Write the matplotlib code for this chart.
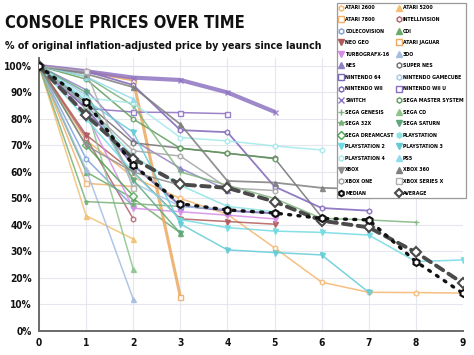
import matplotlib
matplotlib.use('Agg')
import matplotlib.pyplot as plt
from matplotlib import font_manager as fm
from matplotlib.lines import Line2D
from matplotlib.ticker import FuncFormatter
import numpy as np

# ---------------- data ----------------
years = [0, 1, 2, 3, 4, 5, 6, 7, 8, 9]

atari_2600 = [100, 72, 58, 50, 44, 31.4, 18.4, 14.6, 14.5, 14.3]
atari_5200 = [100, 43.5, 34.7]
atari_7800 = [100, 55.7, 54.5]
intellivision = [100, 73, 42.3]
colecovision = [100, 65, 47]
cdi = [100, 60, 50, 37]
neo_geo = [100, 74, 60, 42.3, 41.3, 40.3]
atari_jaguar = [100, 98, 94.7, 13]
turbografx_16 = [100, 82, 46.3, 45, 43.7, 42.3]
three_do = [100, 61, 12]
nes = [100, 91, 72, 61.4, 53.2]
super_nes = [100, 86, 71, 69, 67, 65.2, 43]
nintendo_64 = [100, 84, 62.6, 47.3, 45.4, 44.4]
gamecube = [100, 89, 56, 47, 46]
nintendo_wii = [100, 98, 92.8, 75.8, 75, 54.5, 46.4, 45.4]
nintendo_wii_u = [100, 84, 82.6, 82.4, 82]
switch = [100, 98, 95.6, 94.7, 90, 82.7]
sega_master_system = [100, 95, 80, 68.9, 67.1, 65]
sega_genesis = [100, 96, 85, 60, 55, 50, 42.5, 41.9, 41]
sega_cd = [100, 85, 23.4]
sega_32x = [100, 48.8, 48, 47]
sega_saturn = [100, 90, 57, 36.9]
sega_dreamcast = [100, 70, 51]
playstation = [100, 85, 66, 55, 47, 45]
playstation_2 = [100, 80, 60, 42, 39, 37.7, 37.2, 36.2, 26.2, 26.8]
playstation_3 = [100, 87, 75, 40.4, 30.6, 29.6, 28.7, 14.6]
playstation_4 = [100, 88, 86, 73, 71.7, 69.8, 68.3]
ps5 = [100, 96, 87.5]
xbox = [100, 70, 60, 55]
xbox_360 = [100, 97, 92, 78, 56.6, 56, 54, 53.5, 52.2]
xbox_one = [100, 85, 68, 66, 54, 53]
xbox_series_x = [100, 98, 54]
median = [100, 86.5, 62.6, 48, 45.7, 44.5, 42.5, 41.9, 26.2, 14.2]
average = [100, 81.5, 65, 55.3, 54, 48.8, 41.6, 39.1, 29.7, 18]

labels = ["ATARI 2600", "ATARI 5200", "ATARI 7800", "INTELLIVISION", "COLECOVISION", "CDI",
          "NEO GEO", "ATARI JAGUAR", "TURBOGRAFX-16", "3DO", "NES", "SUPER NES",
          "NINTENDO 64", "NINTENDO GAMECUBE", "NINTENDO WII", "NINTENDO WII U", "SWITCH",
          "SEGA MASTER SYSTEM", "SEGA GENESIS", "SEGA CD", "SEGA 32X", "SEGA SATURN",
          "SEGA DREAMCAST", "PLAYSTATION", "PLAYSTATION 2", "PLAYSTATION 3", "PLAYSTATION 4",
          "PS5", "XBOX", "XBOX 360", "XBOX ONE", "XBOX SERIES X", "MEDIAN", "AVERAGE"]

series = [atari_2600, atari_5200, atari_7800, intellivision, colecovision, cdi,
          neo_geo, atari_jaguar, turbografx_16, three_do, nes, super_nes,
          nintendo_64, gamecube, nintendo_wii, nintendo_wii_u, switch,
          sega_master_system, sega_genesis, sega_cd, sega_32x, sega_saturn,
          sega_dreamcast, playstation, playstation_2, playstation_3, playstation_4,
          ps5, xbox, xbox_360, xbox_one, xbox_series_x, median, average]

# style: color, marker, hollow, linewidth
styles = [
    ('#f4b56c', 'h', True, 1.1), ('#f2c070', '^', False, 1.1), ('#f0b070', 's', True, 1.1),
    ('#b0606e', 'h', True, 1.1), ('#7d9fd6', 'h', True, 1.1), ('#6aaa6a', '^', False, 1.1),
    ('#b05a5a', 'v', False, 1.1), ('#eda860', 's', True, 2.2), ('#d58ce8', 'v', False, 1.1),
    ('#a4bce2', '^', False, 1.1), ('#8f7fc4', '^', False, 1.1), ('#6f6f6f', 'h', True, 1.1),
    ('#7a68b4', 's', True, 1.5), ('#a6c6ea', 'h', True, 1.1), ('#7f64b8', 'h', True, 1.3),
    ('#8a6cc0', 's', True, 1.1), ('#8e74c2', 'x', False, 3.0),
    ('#5e9a5a', 'h', True, 1.1), ('#7db47d', '+', False, 1.1), ('#8cc48c', '^', False, 1.1),
    ('#78b078', '*', False, 1.1), ('#5ea87e', 'v', False, 1.1), ('#4ea04e', 'D', True, 1.1),
    ('#8ae2e2', 'h', False, 1.1), ('#70dae2', 'v', False, 1.1), ('#62ccd6', 'v', False, 1.1),
    ('#a2e8ea', 'h', True, 1.1), ('#90dcef', '^', False, 1.1), ('#8c8c8c', 'v', False, 1.1),
    ('#7f7f7f', '^', False, 1.3), ('#a2a2a2', 'h', True, 1.1), ('#b0b0b0', 's', True, 1.1),
    ('#111111', 'h', True, 2.4), ('#4a4a4a', 'D', True, 2.8),
]

# ---------------- fonts: DejaVu Sans Condensed Bold if present ----------------
def weight_of(f):
    if isinstance(f.weight, int):
        return f.weight
    table = {'black': 900, 'heavy': 900, 'extra bold': 800, 'bold': 700, 'demibold': 600,
             'semibold': 600, 'medium': 500, 'normal': 400, 'regular': 400, 'light': 300}
    return table.get(str(f.weight).lower(), 400)


def pick_font():
    for f in fm.fontManager.ttflist:
        fn = f.fname.lower()
        if f.name == 'DejaVu Sans' and 'condensed' in fn and 'bold' in fn \
                and 'oblique' not in fn and 'italic' not in fn:
            return dict(fname=f.fname)
    best = None
    for f in fm.fontManager.ttflist:
        fn = f.fname.lower()
        nm = f.name.lower()
        if 'mono' in fn or 'mono' in nm or 'italic' in fn or 'oblique' in fn or f.style != 'normal':
            continue
        cond = str(f.stretch) == 'condensed' or 'condensed' in fn or 'narrow' in fn
        if not cond or 'extra' in fn or 'ultra' in fn:
            continue
        score = -abs(weight_of(f) - 700)
        if best is None or score > best[0]:
            best = (score, f.fname)
    if best is not None:
        return dict(fname=best[1])
    return dict(family='DejaVu Sans', weight='bold')


FONTSPEC = pick_font()


def fp(size):
    return fm.FontProperties(size=size, **FONTSPEC)


# ---------------- figure ----------------
fig = plt.figure(figsize=(4.74, 3.55), dpi=100)
ax = fig.add_axes([39 / 474, 24 / 355, 424 / 474, 273 / 355])

for vals, (c, m, hollow, lw), lab in zip(series, styles, labels):
    x = years[:len(vals)]
    special = lab in ('MEDIAN', 'AVERAGE')
    if lab == 'MEDIAN':
        ls = (0, (0.6, 2.2))
        z = 5
    elif lab == 'AVERAGE':
        ls = (0, (2.2, 1.6))
        z = 4
    else:
        ls = '-'
        z = 2
    ax.plot(x, vals, color=c, lw=lw, ls=ls, marker=m, ms=5 if special else 3.6,
            mfc='white' if hollow else c, mec=c, mew=1.5 if special else 1.0,
            alpha=1.0 if special else 0.85,
            zorder=z, dash_capstyle='round', solid_capstyle='round')

ax.set_xlim(0, 9)
ax.set_ylim(0, 103)
ax.set_xticks(years)
ax.set_yticks(np.arange(0, 101, 10))
ax.yaxis.set_major_formatter(FuncFormatter(lambda v, p: f"{int(v)}%"))
ax.grid(True, color='#e6e6ee', lw=0.8)
ax.set_axisbelow(True)
for s in ('top', 'right'):
    ax.spines[s].set_visible(False)
for s in ('left', 'bottom'):
    ax.spines[s].set_color('#6a6a6a')
    ax.spines[s].set_linewidth(1.4)
ax.tick_params(length=0, pad=5)

renderer = fig.canvas.get_renderer()


def fit_size(text, size, target_w):
    t = fig.text(0, 0, text, fontproperties=fp(size))
    w = t.get_window_extent(renderer).width
    t.remove()
    return size * target_w / w


tick_size = min(10, fit_size("100%", 9, 28))
for t in ax.get_xticklabels() + ax.get_yticklabels():
    t.set_fontproperties(fp(tick_size))
    t.set_color('#111111')

title_size = min(14, fit_size("CONSOLE PRICES OVER TIME", 13, 240))
sub_size = min(12, fit_size("% of original inflation-adjusted price by years since launch", 10, 314))
fig.text(5 / 474, 1 - 28 / 355, "CONSOLE PRICES OVER TIME", fontproperties=fp(title_size),
         va='baseline', ha='left', color='#111111')
fig.text(5 / 474, 1 - 49 / 355, "% of original inflation-adjusted price by years since launch",
         fontproperties=fp(sub_size), va='baseline', ha='left', color='#111111')

handles = []
for (c, m, hollow, lw), lab in zip(styles, labels):
    special = lab in ('MEDIAN', 'AVERAGE')
    handles.append(Line2D([], [], ls='none', marker=m, ms=3.8, color=c,
                          mfc='white' if hollow else c, mec=c, mew=1.5 if special else 1.0))
order = list(range(0, len(labels), 2)) + list(range(1, len(labels), 2))


def make_legend(fs, ls):
    lg = fig.legend([handles[i] for i in order], [labels[i] for i in order], ncol=2,
                    loc='upper right', bbox_to_anchor=(466 / 474, 1 - 3 / 355),
                    prop=fp(fs), frameon=True, fancybox=False,
                    edgecolor='#9a9a9a', framealpha=1, labelspacing=ls, handlelength=0.8,
                    handletextpad=0.35, columnspacing=0.6, borderpad=0.45, borderaxespad=0)
    lg.get_frame().set_linewidth(0.9)
    return lg


leg_fs, leg_ls = 4.5, 0.9
for _ in range(6):
    leg = make_legend(leg_fs, leg_ls)
    bb = leg.get_window_extent(renderer)
    w, h = bb.width, bb.height
    leg.remove()
    leg_fs = min(6.0, max(3.2, leg_fs * 129 / w))
    leg_ls = max(0.3, leg_ls + (195 - h) / (17 * leg_fs * 100 / 72))
leg = make_legend(leg_fs, leg_ls)

fig.savefig('out.png', dpi=100)
